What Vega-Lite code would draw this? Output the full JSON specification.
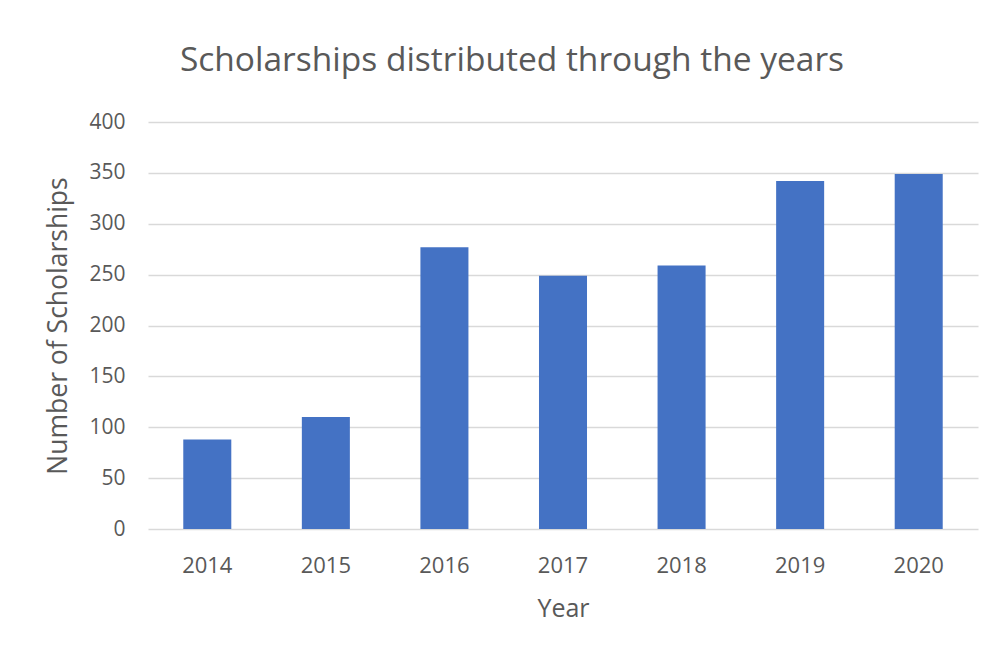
{
  "$schema": "https://vega.github.io/schema/vega-lite/v6.json",
  "autosize": "none",
  "width": 830,
  "height": 407,
  "padding": {"left": 148, "top": 122, "right": 17, "bottom": 121},
  "background": "white",
  "title": {
    "text": "Scholarships distributed through the years",
    "font": "Open Sans",
    "fontSize": 33.5,
    "fontWeight": "normal",
    "color": "#595959",
    "anchor": "middle",
    "dx": -51,
    "offset": 33
  },
  "data": {
    "values": [
      {"Year": "2014", "Scholarships": 88},
      {"Year": "2015", "Scholarships": 110},
      {"Year": "2016", "Scholarships": 277},
      {"Year": "2017", "Scholarships": 249},
      {"Year": "2018", "Scholarships": 259},
      {"Year": "2019", "Scholarships": 342},
      {"Year": "2020", "Scholarships": 349}
    ]
  },
  "mark": {"type": "bar", "color": "#4472C4"},
  "encoding": {
    "x": {
      "field": "Year",
      "type": "ordinal",
      "scale": {"paddingInner": 0.595, "paddingOuter": 0.2975},
      "axis": {
        "title": "Year",
        "labelAngle": 0,
        "ticks": false,
        "domain": false,
        "labelFontSize": 22,
        "labelPadding": 26,
        "titlePadding": 20,
        "titleFontSize": 25
      }
    },
    "y": {
      "field": "Scholarships",
      "type": "quantitative",
      "scale": {"domain": [0, 400]},
      "axis": {
        "title": "Number of Scholarships",
        "values": [0, 50, 100, 150, 200, 250, 300, 350, 400],
        "ticks": false,
        "domain": false,
        "labelFontSize": 21,
        "labelPadding": 23,
        "titlePadding": 16,
        "titleFontSize": 26.5
      }
    }
  },
  "config": {
    "view": {"stroke": null},
    "axis": {
      "labelFont": "Open Sans",
      "labelColor": "#595959",
      "titleFont": "Open Sans",
      "titleFontWeight": "normal",
      "titleColor": "#595959",
      "gridColor": "#d9d9d9",
      "gridWidth": 1.5
    },
    "axisX": {"grid": false},
    "axisY": {"grid": true}
  }
}
